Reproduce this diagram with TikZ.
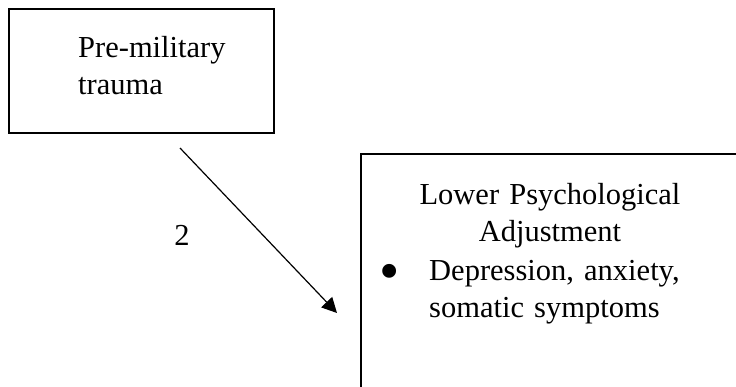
\documentclass[tikz,border=0pt]{standalone}
\usepackage{fontspec}
\setmainfont{Liberation Serif}
\usetikzlibrary{arrows.meta}

\tikzset{
  box/.style={draw=black,line width=1.6pt,fill=white,inner sep=0pt},
  txt/.style={inner sep=0pt,font=\fontsize{30.5}{37}\selectfont},
  path arrow/.style={-{Triangle[length=15pt,width=15pt]},line width=1.2pt}
}

\begin{document}
\begin{tikzpicture}[x=1pt,y=-1pt]
  \useasboundingbox (0,0) rectangle (736,387);

  \node[box,minimum width=265pt,minimum height=124pt] (premil) at (141.5,71) {};
  \node[txt,anchor=base west,text width=200pt,align=left] (premiltext) at (78,58) {Pre-military\\trauma};

  \node[box,minimum width=380pt,minimum height=240pt] (adjust) at (551,274) {};
  \node[txt,anchor=base,text width=340pt,align=center] (adjusttext) at (550,205) {Lower Psychological\\ Adjustment};
  \node[txt,anchor=base west,text width=300pt,align=left] (symptoms) at (429,280)
    {\llap{\raisebox{-10pt}{\scalebox{1.9}{\textbullet}}\hspace{29pt}}Depression, anxiety,\\somatic symptoms};

  \coordinate (from) at (180,148);
  \coordinate (to) at (337,313);
  \draw[path arrow] (from) -- (to);
  \node[txt,anchor=base] (pathlabel) at (182,246) {2};
\end{tikzpicture}
\end{document}
